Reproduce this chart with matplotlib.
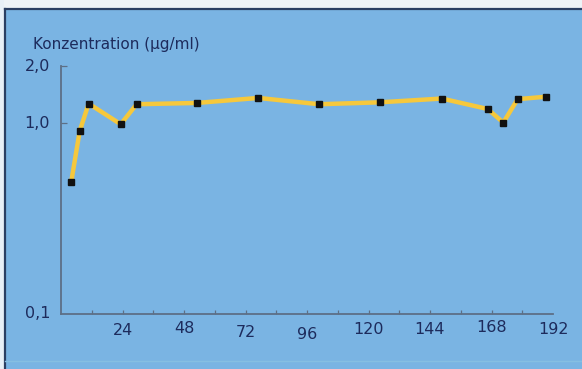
import matplotlib
matplotlib.use("Agg")
import matplotlib.pyplot as plt
import matplotlib.transforms as mtransforms
from matplotlib.ticker import FixedLocator, NullFormatter, NullLocator
from matplotlib.patches import Rectangle
from matplotlib.lines import Line2D

# Data (hours, concentration µg/ml)
hours = [4, 7.3, 10.8, 23.3, 29.5, 53, 77, 100.8, 124.5, 148.6, 166.5, 172.6, 178.2, 189.2]
conc = [0.494, 0.912, 1.27, 0.99, 1.26, 1.28, 1.36, 1.26, 1.29, 1.35, 1.19, 1.01, 1.34, 1.38]

x_ticks = [24, 48, 72, 96, 120, 144, 168, 192]
x_tick_labels = ["24", "48", "72", "96", "120", "144", "168", "192"]
x_label_jitter = [-1, 1, -3, -5, 0, 0, 2, 0]  # pixel offsets of scanned labels
y_ticks = [0.1, 1.0, 2.0]
y_tick_labels = ["0,1", "1,0", "2,0"]
y_title = "Konzentration (\u00b5g/ml)"

BG = "#7ab4e3"
TEXT = "#1d2b5c"
AXC = "#5d6f86"
LINE = "#f6c83c"

fonts = ["Liberation Sans Narrow", "DejaVu Sans"]

W, H = 582, 369
fig = plt.figure(figsize=(W / 100, H / 100), dpi=100)
fig.patch.set_facecolor(BG)

# scan frame: white strip top/left, dark border
fig.add_artist(Rectangle((0, 1 - 8 / H), 1, 8 / H, transform=fig.transFigure,
                         facecolor="#eef3f7", edgecolor="none", zorder=0))
fig.add_artist(Rectangle((0, 0), 4 / W, 1, transform=fig.transFigure,
                         facecolor="#e8f0f7", edgecolor="none", zorder=0))
fig.add_artist(Line2D([4.5 / W, 1], [1 - 8.5 / H, 1 - 8.5 / H], transform=fig.transFigure,
                      color="#2a3f63", lw=1.6))
fig.add_artist(Line2D([4.5 / W, 4.5 / W], [0, 1 - 8.5 / H], transform=fig.transFigure,
                      color="#2a3f63", lw=1.6))
fig.add_artist(Line2D([5 / W, 1], [1 - 361 / H, 1 - 361 / H], transform=fig.transFigure,
                      color="#86bfe2", lw=1.0))

x0, x1 = 61, 553
y_top, y_bot = 66, 314
ax = fig.add_axes([x0 / W, 1 - y_bot / H, (x1 - x0) / W, (y_bot - y_top) / H])
ax.set_facecolor("none")
ax.set_yscale("log")
ax.set_xlim(0, 192)
ax.set_ylim(0.1, 2.0)

for s in ["top", "right"]:
    ax.spines[s].set_visible(False)
for s in ["left", "bottom"]:
    ax.spines[s].set_color(AXC)
    ax.spines[s].set_linewidth(1.3)

ax.plot(hours, conc, color=LINE, lw=3.2, solid_joinstyle="round", zorder=3,
        marker="s", markersize=5, markerfacecolor="#111111", markeredgecolor="#111111",
        clip_on=False)

# x ticks: small upward ticks every 12 h
ax.xaxis.set_major_locator(FixedLocator(list(range(12, 192, 12))))
ax.xaxis.set_major_formatter(NullFormatter())
ax.xaxis.set_minor_locator(NullLocator())
ax.tick_params(axis="x", direction="in", length=3, width=0.9, color=AXC)

ax.yaxis.set_major_locator(FixedLocator([1.0, 2.0]))
ax.yaxis.set_major_formatter(NullFormatter())
ax.yaxis.set_minor_locator(NullLocator())
ax.tick_params(axis="y", direction="in", length=4, width=0.9, color=AXC)

for xv, lab, dy in zip(x_ticks, x_tick_labels, x_label_jitter):
    tr = mtransforms.offset_copy(ax.get_xaxis_transform(), fig=fig,
                                 x=0, y=-(8 - dy) * 0.72, units="points")
    ax.text(xv, 0, lab, transform=tr, ha="center", va="top", fontsize=11.5,
            color=TEXT, family=fonts)

for yv, lab in zip(y_ticks, y_tick_labels):
    ax.text(-11 / 2.5625, yv, lab, ha="right", va="center", fontsize=11.5,
            color=TEXT, family=fonts)

fig.text(33 / W, 1 - 44 / H, y_title, ha="left", va="center", fontsize=11,
         color=TEXT, family=fonts)

fig.savefig("out.png", dpi=100, facecolor=fig.get_facecolor())
